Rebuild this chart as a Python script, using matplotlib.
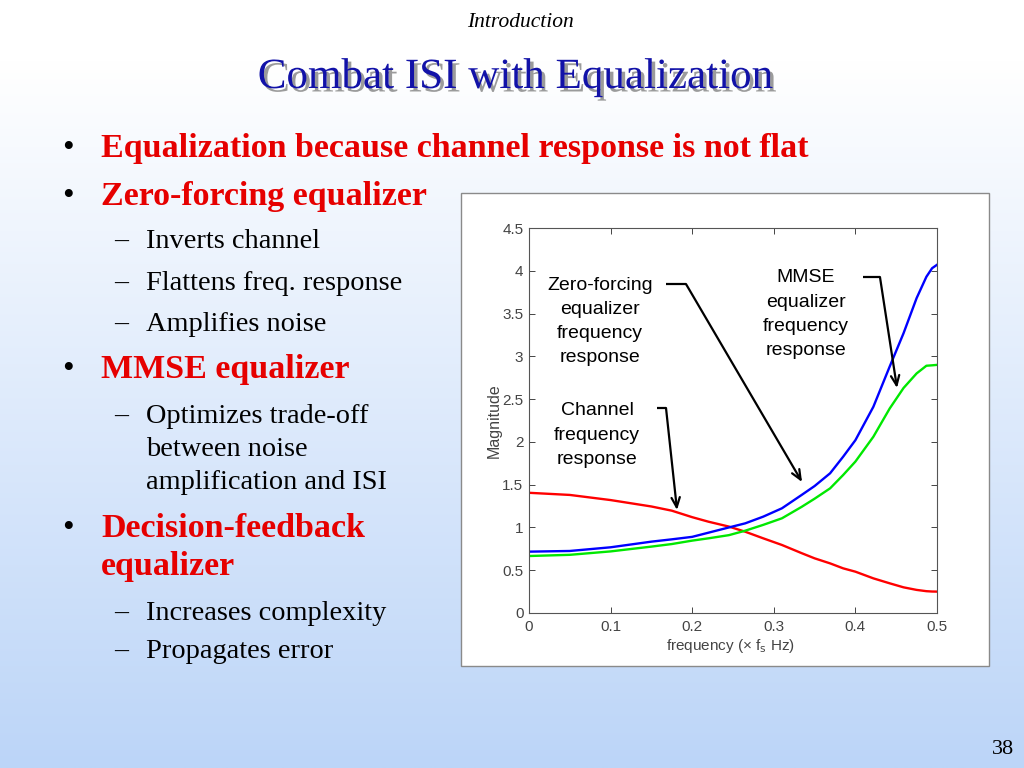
import numpy as np
import matplotlib
matplotlib.use("Agg")
import matplotlib.pyplot as plt
from matplotlib.patches import Rectangle
import matplotlib.patheffects as pe

# ---------------- data ----------------
freq = [0.0, 0.05, 0.10, 0.15, 0.175, 0.20, 0.22, 0.245, 0.265, 0.287, 0.31, 0.334,
        0.35, 0.369, 0.385, 0.40, 0.422, 0.442, 0.459, 0.475, 0.487, 0.494, 0.50]
channel = [1.405, 1.38, 1.32, 1.245, 1.196, 1.12, 1.067, 1.01, 0.95, 0.873, 0.795, 0.70,
           0.639, 0.58, 0.522, 0.483, 0.405, 0.347, 0.30, 0.27, 0.255, 0.251, 0.25]
zf_eq = [0.717, 0.725, 0.768, 0.834, 0.861, 0.89, 0.939, 1.00, 1.048, 1.126, 1.224, 1.379,
         1.484, 1.633, 1.827, 2.02, 2.41, 2.88, 3.27, 3.68, 3.93, 4.03, 4.07]
mmse_eq = [0.666, 0.68, 0.72, 0.776, 0.806, 0.846, 0.873, 0.91, 0.962, 1.03, 1.107, 1.24,
           1.336, 1.457, 1.613, 1.77, 2.06, 2.39, 2.63, 2.80, 2.89, 2.895, 2.90]
xticks = [0, 0.1, 0.2, 0.3, 0.4, 0.5]
yticks = [0, 0.5, 1, 1.5, 2, 2.5, 3, 3.5, 4, 4.5]

# (text, baseline pixel y, level, show marker)
bullet_lines = [
    ("Equalization because channel response is not flat", 157, 1, True),
    ("Zero-forcing equalizer", 205, 1, True),
    ("Inverts channel", 248, 2, True),
    ("Flattens freq. response", 290, 2, True),
    ("Amplifies noise", 331, 2, True),
    ("MMSE equalizer", 378, 1, True),
    ("Optimizes trade-off", 423, 2, True),
    ("between noise", 456, 2, False),
    ("amplification and ISI", 489, 2, False),
    ("Decision-feedback", 537, 1, True),
    ("equalizer", 575, 1, False),
    ("Increases complexity", 620, 2, True),
    ("Propagates error", 658, 2, True),
]

# chart callouts: lines of text with (x, y) centres in data units
callouts = [
    (["Zero-forcing", "equalizer", "frequency", "response"], 0.0870, [3.826, 3.545, 3.265, 2.985]),
    (["MMSE", "equalizer", "frequency", "response"], 0.3395, [3.92, 3.628, 3.348, 3.068]),
    (["Channel", "frequency", "response"], 0.0833, [2.372, 2.08, 1.80]),
]
arrows = [
    ((0.168, 3.845), (0.1924, 3.845), (0.3346, 1.531)),
    ((0.4093, 3.927), (0.4301, 3.927), (0.451, 2.63)),
    ((0.1569, 2.396), (0.1679, 2.396), (0.1814, 1.204)),
]

W, H = 1024, 768
fig = plt.figure(figsize=(W / 100, H / 100), dpi=100)

def fx(px):
    return px / W

def fy(py):
    return 1 - py / H

# background gradient
bg = fig.add_axes([0, 0, 1, 1], zorder=-10)
top = np.array([1.0, 1.0, 1.0])
bot = np.array([0xbc, 0xd5, 0xf8]) / 255.0
t = np.linspace(0, 1, 256)[:, None]
t = np.clip((t - 0.08) / 0.92, 0, 1)
grad = top[None, :] * (1 - t) + bot[None, :] * t
grad = np.repeat(grad[:, None, :], 2, axis=1)
bg.imshow(grad, aspect="auto", extent=[0, 1, 0, 1], origin="upper")
bg.set_axis_off()

serif = ["Liberation Serif", "DejaVu Serif"]
sans = ["Liberation Sans", "DejaVu Sans"]

fig.text(fx(520), fy(27), "Introduction", family=serif, style="italic",
         fontsize=15.5, ha="center", va="baseline", color="black")
fig.text(fx(515), fy(88), "Combat ISI with Equalization", family=serif,
         fontsize=31, ha="center", va="baseline", color="#1212a8",
         path_effects=[pe.withSimplePatchShadow(offset=(2.5, -2.5), shadow_rgbFace="#7a7a7a", alpha=0.75)])

for txt, y, level, mark in bullet_lines:
    if level == 1:
        if mark:
            fig.text(fx(68), fy(y), "\u2022", family=serif, fontsize=24, ha="center",
                     va="baseline", color="black")
        fig.text(fx(101), fy(y), txt, family=serif, fontsize=24.5, weight="bold",
                 color="#e60000", ha="left", va="baseline")
    else:
        if mark:
            fig.text(fx(121), fy(y), "\u2013", family=serif, fontsize=20, ha="center",
                     va="baseline", color="black")
        fig.text(fx(146), fy(y), txt, family=serif, fontsize=20.4, color="black",
                 ha="left", va="baseline")

fig.text(fx(1003), fy(754), "38", family=serif, fontsize=16, ha="center",
         va="baseline", color="black")

# white chart box
fig.patches.append(Rectangle((fx(461), fy(666)), fx(989) - fx(461), fy(193) - fy(666),
                             transform=fig.transFigure, facecolor="white",
                             edgecolor="#8a8a8a", linewidth=1.0, zorder=-5))

ax = fig.add_axes([fx(529), fy(613), fx(937) - fx(529), fy(228) - fy(613)], zorder=1)
ax.set_facecolor("white")
ax.plot(freq, channel, color="#ff0000", lw=1.7)
ax.plot(freq, zf_eq, color="#0000ff", lw=1.7)
ax.plot(freq, mmse_eq, color="#00e800", lw=1.7)
ax.set_xlim(0, 0.5)
ax.set_ylim(0, 4.5)
ax.set_xticks(xticks)
ax.set_xticklabels([("%g" % v) for v in xticks])
ax.set_yticks(yticks)
ax.set_yticklabels([("%g" % v) for v in yticks])
ax.tick_params(direction="in", top=True, right=True, length=4, width=0.7,
               labelsize=11, labelcolor="#444444", color="#444444")
ax.tick_params(axis="x", pad=5)
ax.tick_params(axis="y", pad=4)
for lab in ax.get_xticklabels() + ax.get_yticklabels():
    lab.set_family(sans)
for s in ax.spines.values():
    s.set_color("#555555")
    s.set_linewidth(0.8)
ax.set_ylabel("Magnitude", family=sans, fontsize=11.5, color="#444444")
ax.yaxis.label.set_verticalalignment("center")
ax.yaxis.set_label_coords((494 - 529) / 408, (613 - 421) / 385)
ax.set_xlabel("frequency (\u00d7 f$_{\\mathrm{s}}$ Hz)", family=sans, fontsize=11,
              color="#444444")
ax.xaxis.set_label_coords((730 - 529) / 408, (613 - 637) / 385)

for lines, cx, ys in callouts:
    for line, cy in zip(lines, ys):
        ax.text(cx, cy, line, family=sans, fontsize=14, ha="center", va="center")

for a, b, c in arrows:
    ax.plot([a[0], b[0]], [a[1], b[1]], color="black", lw=1.6, solid_capstyle="butt")
    ax.annotate("", xy=c, xytext=b,
                arrowprops=dict(arrowstyle="->,head_length=0.7,head_width=0.3",
                                color="black", lw=1.6, shrinkA=0, shrinkB=0))

fig.savefig("out.png", dpi=100)
